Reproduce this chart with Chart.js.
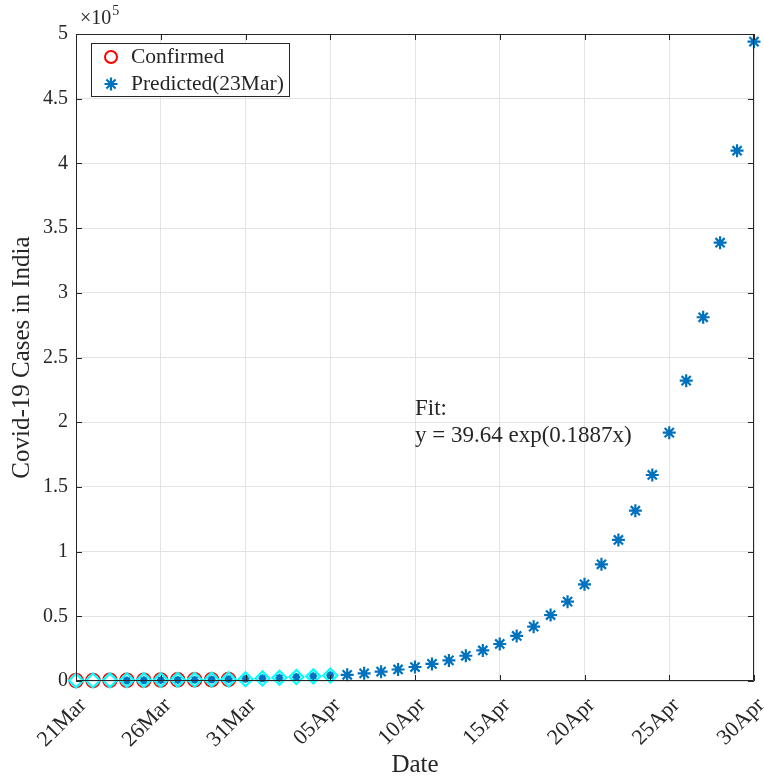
<!DOCTYPE html>
<html lang="en">
<head>
  <meta charset="UTF-8" />
  <title>Covid-19 Cases in India</title>
  <script src="https://cdn.jsdelivr.net/npm/chart.js"></script>
  <style>
    body { margin: 0; background: #fff; }
    canvas { display: block; }
  </style>
</head>
<body>
  <canvas id="grafik" width="764" height="778"></canvas>

  <script>
    // day index 0 = 21Mar ... 40 = 30Apr
    const dayLabels = ['21Mar', '22Mar', '23Mar', '24Mar', '25Mar', '26Mar', '27Mar', '28Mar', '29Mar', '30Mar',
      '31Mar', '01Apr', '02Apr', '03Apr', '04Apr', '05Apr', '06Apr', '07Apr', '08Apr', '09Apr',
      '10Apr', '11Apr', '12Apr', '13Apr', '14Apr', '15Apr', '16Apr', '17Apr', '18Apr', '19Apr',
      '20Apr', '21Apr', '22Apr', '23Apr', '24Apr', '25Apr', '26Apr', '27Apr', '28Apr', '29Apr', '30Apr'];
    const xTicks = [0, 5, 10, 15, 20, 25, 30, 35, 40];

    // confirmed cases, 21Mar..30Mar
    const confirmed = [330, 396, 499, 536, 657, 727, 887, 987, 1024, 1251];

    // actual cases up to 05Apr (cyan diamonds, not in legend)
    const actual = [330, 396, 499, 536, 657, 727, 887, 987, 1024, 1251,
      1397, 1998, 2543, 3059, 3588, 4289];

    // predicted, starting at 24Mar (day 3)
    const predStart = 3;
    const predicted = [460, 560, 670, 810, 980, 1180, 1430, 1720, 2080, 2510, 3030, 3660, 4420,
      4800, 5900, 7200, 8900, 10800, 13200, 15900, 19500, 23600, 28600,
      34800, 42000, 51000, 61300, 74700, 90200, 109000, 131600, 159200, 191900,
      232100, 281100, 338700, 409800, 494100];

    const fitText = ['Fit:', 'y = 39.64 exp(0.1887x)'];

    const font = "'Liberation Serif', 'DejaVu Serif', serif";
    const ink = '#262626';
    const blue = '#0072BD';

    function toPoints(vals, start) {
      return vals.map((v, i) => ({ x: start + i, y: v }));
    }

    const extras = {
      id: 'extras',
      afterDraw(chart) {
        const ctx = chart.ctx;
        const a = chart.chartArea;
        const xs = chart.scales.x, ys = chart.scales.y;
        ctx.save();

        // box + inward ticks
        ctx.strokeStyle = ink;
        ctx.lineWidth = 1;
        ctx.beginPath();
        ctx.rect(a.left + 0.5, a.top + 0.5, a.right - a.left - 1, a.bottom - a.top - 1);
        xTicks.forEach(v => {
          const px = Math.round(xs.getPixelForValue(v)) + 0.5;
          ctx.moveTo(px, a.bottom); ctx.lineTo(px, a.bottom - 6);
          ctx.moveTo(px, a.top); ctx.lineTo(px, a.top + 6);
        });
        ys.ticks.forEach(t => {
          const py = Math.round(ys.getPixelForValue(t.value)) + 0.5;
          ctx.moveTo(a.left, py); ctx.lineTo(a.left + 6, py);
          ctx.moveTo(a.right, py); ctx.lineTo(a.right - 6, py);
        });
        ctx.stroke();

        ctx.fillStyle = ink;
        // rotated date labels
        ctx.font = '22px ' + font;
        ctx.textAlign = 'right';
        ctx.textBaseline = 'middle';
        xTicks.forEach(v => {
          ctx.save();
          ctx.translate(xs.getPixelForValue(v) + 7, a.bottom + 21);
          ctx.rotate(-Math.PI / 4);
          ctx.fillText(dayLabels[v], 0, 0);
          ctx.restore();
        });

        // exponent label
        ctx.textAlign = 'left';
        ctx.font = '20px ' + font;
        ctx.fillText('\u00d710', 80, 19);
        const w = ctx.measureText('\u00d710').width;
        ctx.font = '14px ' + font;
        ctx.fillText('5', 80 + w + 1, 11);

        // axis titles
        ctx.font = '25px ' + font;
        ctx.textAlign = 'center';
        ctx.fillText('Date', (a.left + a.right) / 2, 765);
        ctx.save();
        ctx.translate(22, (a.top + a.bottom) / 2);
        ctx.rotate(-Math.PI / 2);
        ctx.fillText('Covid-19 Cases in India', 0, 0);
        ctx.restore();

        // fit annotation
        ctx.font = '23px ' + font;
        ctx.textAlign = 'left';
        const fx = xs.getPixelForValue(20), fy = ys.getPixelForValue(200000);
        ctx.fillText(fitText[0], fx, fy - 13);
        ctx.fillText(fitText[1], fx, fy + 14);

        // legend
        ctx.fillStyle = '#fff';
        ctx.fillRect(91, 43, 198, 53);
        ctx.strokeStyle = ink;
        ctx.lineWidth = 1;
        ctx.strokeRect(91.5, 43.5, 198, 53);
        ctx.strokeStyle = '#ff0000';
        ctx.lineWidth = 2;
        Chart.helpers.drawPoint(ctx, { pointStyle: 'circle', radius: 6, rotation: 0, borderWidth: 2 }, 111, 57);
        ctx.strokeStyle = blue;
        ctx.lineWidth = 2.2;
        Chart.helpers.drawPoint(ctx, { pointStyle: 'star', radius: 6.5, rotation: 0, borderWidth: 2.2 }, 111, 84);
        ctx.fillStyle = ink;
        ctx.font = '21.5px ' + font;
        ctx.fillText('Confirmed', 131, 57);
        ctx.fillText('Predicted(23Mar)', 131, 84);

        ctx.restore();
      }
    };

    new Chart(document.getElementById('grafik'), {
      type: 'scatter',
      data: {
        datasets: [
          {
            label: 'Actual',
            data: toPoints(actual, 0),
            pointStyle: 'rectRot',
            pointRadius: 7,
            borderColor: '#00ffff',
            backgroundColor: 'rgba(0,0,0,0)',
            pointBorderWidth: 2.2,
            clip: false,
            order: 0
          },
          {
            label: 'Predicted(23Mar)',
            data: toPoints(predicted, predStart),
            pointStyle: 'star',
            pointRadius: c => (c.dataIndex + predStart <= 15 ? 4 : 6.5),
            borderColor: blue,
            backgroundColor: blue,
            pointBorderWidth: 2.2,
            clip: false,
            order: 1
          },
          {
            label: 'Confirmed',
            data: toPoints(confirmed, 0),
            pointStyle: 'circle',
            pointRadius: 7,
            borderColor: '#ff0000',
            backgroundColor: 'rgba(0,0,0,0)',
            pointBorderWidth: 1.5,
            clip: false,
            order: 2
          }
        ]
      },
      options: {
        responsive: false,
        animation: false,
        layout: { padding: { left: 0, right: 10, top: 34, bottom: 0 } },
        plugins: { legend: { display: false }, tooltip: { enabled: false } },
        scales: {
          x: {
            type: 'linear',
            min: 0,
            max: 40,
            afterFit: s => { s.height = 97; s.paddingLeft = 0; s.paddingRight = 0; },
            afterBuildTicks: s => {
              s.ticks = xTicks.map(v => ({ value: v }));
            },
            ticks: { display: false },
            grid: { color: '#e3e3e3', drawTicks: false },
            border: { display: false }
          },
          y: {
            min: 0,
            max: 500000,
            afterFit: s => { s.width = 76; },
            ticks: {
              stepSize: 50000,
              callback: v => String(v / 100000),
              padding: 8,
              color: ink,
              font: { family: font, size: 20 }
            },
            grid: { color: '#e3e3e3', drawTicks: false },
            border: { display: false }
          }
        }
      },
      plugins: [extras]
    });
  </script>
</body>
</html>
